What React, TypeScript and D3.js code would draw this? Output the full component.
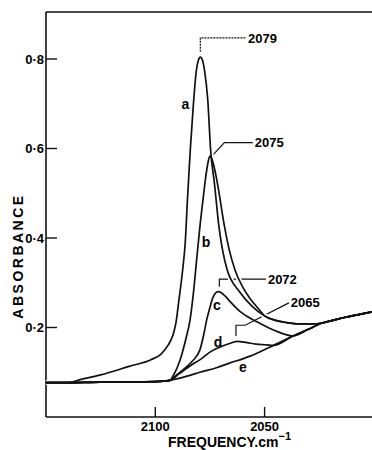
import * as d3 from 'd3';

// absorbance vs frequency (cm-1)
const baseline: [number, number][] = [
  [2150, 0.077], [2140, 0.077], [2125, 0.078], [2110, 0.078], [2100, 0.079], [2093.3, 0.082],
];

const riseA: [number, number][] = [
  [2134, 0.084], [2125, 0.094], [2112, 0.113], [2102, 0.128], [2097.5, 0.14], [2094.2, 0.16],
  [2092, 0.182], [2090.5, 0.212], [2089.2, 0.261], [2087.5, 0.328], [2086.3, 0.39],
  [2085.3, 0.485], [2084, 0.597], [2082.6, 0.697], [2081.2, 0.775], [2080.3, 0.797],
  [2079.4, 0.804], [2078.4, 0.797], [2077.4, 0.772], [2076, 0.709], [2074.7, 0.597],
  [2072.9, 0.52], [2071, 0.43], [2067.2, 0.33], [2061.3, 0.279], [2055.8, 0.248],
];

const riseB: [number, number][] = [
  [2091.5, 0.095], [2088.7, 0.127], [2086, 0.175], [2084.1, 0.217], [2082.5, 0.28],
  [2081.1, 0.351], [2079.5, 0.43], [2078.2, 0.485], [2076.8, 0.541], [2075.8, 0.571],
  [2075, 0.583], [2074.2, 0.578], [2073.3, 0.563], [2071.5, 0.52], [2068.5, 0.43],
  [2066, 0.37], [2063.5, 0.328], [2060, 0.29], [2056.7, 0.265], [2053, 0.243],
];

const tailAB: [number, number][] = [
  [2050, 0.226], [2045, 0.216], [2040, 0.211], [2034, 0.208], [2028, 0.208], [2023.7, 0.21],
];

const riseC: [number, number][] = [
  [2090, 0.095], [2086.4, 0.109], [2083, 0.125], [2079.6, 0.15], [2077.8, 0.185],
  [2076.5, 0.217], [2075, 0.245], [2073.8, 0.265], [2072.6, 0.276], [2071.3, 0.28],
  [2070, 0.278], [2068, 0.27], [2065.8, 0.258], [2061.3, 0.236], [2056, 0.219],
  [2052, 0.209], [2048, 0.199], [2044.8, 0.192],
];

const riseD: [number, number][] = [
  [2089, 0.097], [2084.1, 0.114], [2079, 0.13], [2075, 0.145], [2071, 0.155], [2068, 0.161],
  [2065, 0.166], [2062.6, 0.169], [2058, 0.166], [2054, 0.163], [2049, 0.161],
];

const riseE: [number, number][] = [
  [2085, 0.092], [2079.6, 0.1], [2072, 0.11], [2065.8, 0.121], [2060, 0.13], [2056.7, 0.136],
  [2052, 0.146], [2046, 0.16], [2037, 0.181], [2030, 0.196], [2023.7, 0.21], [2018, 0.217],
  [2013, 0.223], [2006, 0.23], [2000, 0.236],
];

const after = (f: number) => riseE.filter(p => p[0] < f);

const curves = [
  baseline.slice(0, 2).concat(riseA, tailAB, after(2023.7)),
  baseline.concat(riseB, tailAB, after(2023.7)),
  baseline.concat(riseC, after(2044.8)),
  baseline.concat(riseD, after(2049)),
  baseline.concat(riseE),
];

const curveNames = ['a', 'b', 'c', 'd', 'e'];
const namePos: [number, number][] = [
  [2086.2, 0.699], [2076.8, 0.391], [2071.8, 0.25], [2071.3, 0.168], [2059.9, 0.112],
];

const xTicks = [2100, 2050];
const yTicks = [0.2, 0.4, 0.6, 0.8];

// peak annotations: leader polyline + label
const peakLabels = ['2079', '2075', '2072', '2065'];
const leaders: [number, number][][] = [
  [[2079.4, 0.816], [2079.4, 0.847], [2058.5, 0.847]],
  [[2073.7, 0.585], [2068.4, 0.613], [2055.4, 0.613]],
  [[2070.7, 0.291], [2070.7, 0.308], [2049.4, 0.308]],
  [[2063.1, 0.181], [2063.1, 0.205], [2058.9, 0.205], [2038.9, 0.255]],
];

export default function App() {
  const width = 372;
  const height = 450;
  const x = d3.scaleLinear().domain([2150, 2000]).range([46, 373.9]);
  const y = d3.scaleLinear().domain([0, 0.8]).range([417, 59]);
  const top = y(0.905);

  const line = d3.line<[number, number]>()
    .x(d => x(d[0]))
    .y(d => y(d[1]))
    .curve(d3.curveMonotoneX);
  const poly = d3.line<[number, number]>().x(d => x(d[0])).y(d => y(d[1]));

  const font = 'Liberation Sans, Arial, sans-serif';
  const fmt = (v: number) => d3.format('.1f')(v).replace('.', '·');

  return (
    <svg width={width} height={height} style={{ position: 'absolute', left: 0, top: 0, background: '#fff' }}
      fontFamily={font} fontWeight="bold">
      {/* frame */}
      <line x1={46} x2={width} y1={top} y2={top} stroke="#111" strokeWidth={1.4} />
      <line x1={46} x2={width} y1={y(0)} y2={y(0)} stroke="#111" strokeWidth={1.6} />
      <line x1={46} x2={46} y1={top} y2={y(0)} stroke="#111" strokeWidth={1.6} />

      {yTicks.map(t => (
        <g key={t}>
          <line x1={46} x2={57} y1={y(t)} y2={y(t)} stroke="#111" strokeWidth={1.4} />
          <text x={44} y={y(t)} dy="0.35em" textAnchor="end" fontSize={13}>{fmt(t)}</text>
        </g>
      ))}
      {xTicks.map(t => (
        <g key={t}>
          <line x1={x(t)} x2={x(t)} y1={y(0)} y2={y(0) - 10} stroke="#111" strokeWidth={1.4} />
          <text x={x(t)} y={431} textAnchor="middle" fontSize={13}>{t}</text>
        </g>
      ))}

      <text x={168} y={447} fontSize={14}>FREQUENCY.cm<tspan dy={-7} fontSize={11}>−1</tspan></text>
      <text transform="translate(23,256) rotate(-90)" textAnchor="middle" fontSize={14} letterSpacing={2.5}>ABSORBANCE</text>

      {/* annotations */}
      {leaders.map((pts, i) => (
        <g key={peakLabels[i]}>
          <path d={poly(pts) ?? ''} fill="none" stroke="#111" strokeWidth={1.2}
            strokeDasharray={i === 0 ? '2 1' : undefined} />
          <text x={x(pts[pts.length - 1][0]) + 2} y={y(pts[pts.length - 1][1])} dy="0.35em" fontSize={13}>
            {peakLabels[i]}
          </text>
        </g>
      ))}

      {/* halos so leaders look broken where curves cross */}
      {curves.slice(0, 2).map((c, i) => (
        <path key={'h' + i} d={line(c) ?? ''} fill="none" stroke="#fff" strokeWidth={5} />
      ))}
      {curves.map((c, i) => (
        <path key={curveNames[i]} d={line(c) ?? ''} fill="none" stroke="#111" strokeWidth={1.7} />
      ))}

      {curveNames.map((n, i) => (
        <text key={n} x={x(namePos[i][0])} y={y(namePos[i][1])} dy="0.35em" textAnchor="middle" fontSize={14}>{n}</text>
      ))}
    </svg>
  );
}
